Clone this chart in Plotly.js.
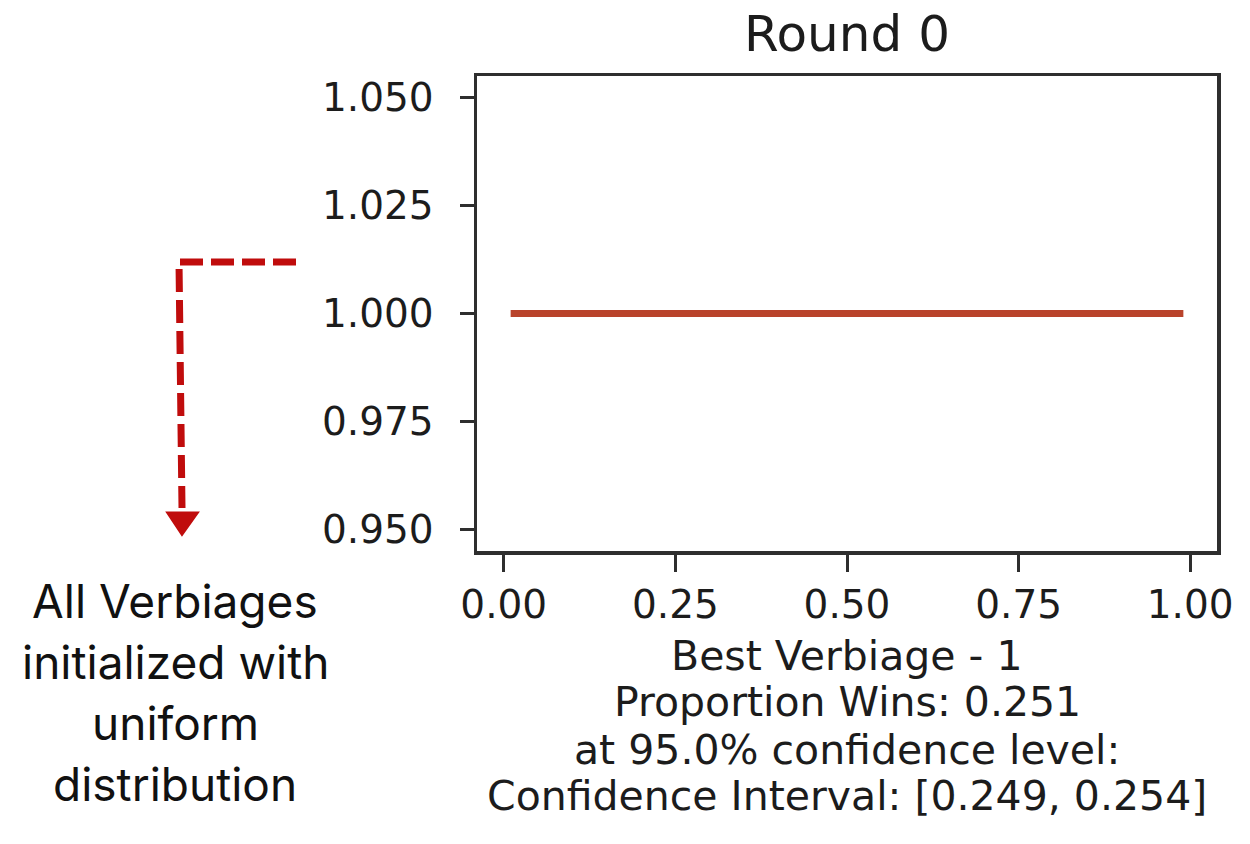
<!DOCTYPE html>
<html>
<head>
<meta charset="utf-8">
<script src="https://cdn.plot.ly/plotly-3.0.1.min.js"></script>
<style>
  html, body { margin: 0; padding: 0; background: #ffffff; }
  #chart { width: 1250px; height: 844px; }
</style>
</head>
<body>
<div id="chart"></div>
<script>
// ---- data ----
const xValues = [0.01, 0.25, 0.50, 0.75, 0.99];
const densityValues = [1.0, 1.0, 1.0, 1.0, 1.0];
const xTickValues = [0.00, 0.25, 0.50, 0.75, 1.00];
const xTickLabels = ["0.00", "0.25", "0.50", "0.75", "1.00"];
const yTickValues = [0.950, 0.975, 1.000, 1.025, 1.050];
const yTickLabels = ["0.950", "0.975", "1.000", "1.025", "1.050"];
const chartTitle = "Round 0";
const bottomLines = [
  "Best Verbiage - 1",
  "Proportion Wins: 0.251",
  "at 95.0% confidence level:",
  "Confidence Interval: [0.249, 0.254]"
];
const sideNoteLines = ["All Verbiages", "initialized with", "uniform", "distribution"];

// ---- layout geometry (pixels) ----
const W = 1250, H = 844;
const M = {l: 477, r: 33, t: 76, b: 293};
const plotW = W - M.l - M.r, plotH = H - M.t - M.b;
const px = x => (x - M.l) / plotW;           // pixel x -> paper x
const py = y => (H - M.b - y) / plotH;       // pixel y -> paper y

const tickFont = {family: "DejaVu Sans", size: 39, color: "#1c1c1c"};
const textFont = {family: "DejaVu Sans", size: 41, color: "#1c1c1c"};
const noteFont = {family: "Inter", size: 46, color: "#111111"};

const trace = {
  x: xValues,
  y: densityValues,
  type: "scatter",
  mode: "lines",
  line: {color: "#b9432b", width: 7},
  hoverinfo: "skip",
  showlegend: false
};

const annotations = [];
const bottomCenters = [656, 702, 750, 796];
bottomLines.forEach((t, i) => annotations.push({
  text: t, xref: "paper", yref: "paper", x: 0.5, y: py(bottomCenters[i]),
  xanchor: "center", yanchor: "middle", showarrow: false, font: textFont
}));
const noteCenters = [601, 662, 723, 784];
sideNoteLines.forEach((t, i) => annotations.push({
  text: t, xref: "paper", yref: "paper", x: px(175), y: py(noteCenters[i]),
  xanchor: "center", yanchor: "middle", showarrow: false, font: noteFont
}));

const P = (x, y) => px(x).toFixed(5) + "," + py(y).toFixed(5);
const shapes = [
  {
    type: "path", xref: "paper", yref: "paper",
    path: "M" + P(296, 262) + " L" + P(179, 262) + " L" + P(182, 508),
    line: {color: "#c00c0c", width: 7, dash: "23px,8px"}
  },
  {
    type: "path", xref: "paper", yref: "paper",
    path: "M" + P(168, 513) + " L" + P(197, 513) + " L" + P(182, 534) + " Z",
    line: {color: "#c00c0c", width: 3}, fillcolor: "#c00c0c"
  }
];

const layout = {
  width: W, height: H,
  margin: M,
  paper_bgcolor: "#ffffff",
  plot_bgcolor: "#ffffff",
  title: {
    text: chartTitle,
    font: {family: "DejaVu Sans", size: 50, color: "#1c1c1c"},
    xref: "paper", x: 0.5, xanchor: "center",
    yref: "container", y: 1 - 33.5 / H, yanchor: "middle"
  },
  xaxis: {
    range: [-0.039, 1.039],
    tickmode: "array", tickvals: xTickValues, ticktext: xTickLabels,
    ticks: "outside", ticklen: 17, tickwidth: 3, tickcolor: "#2e2e2e",
    showline: true, linecolor: "#2e2e2e", linewidth: 3.5, mirror: true,
    showgrid: false, zeroline: false, tickfont: tickFont,
    ticklabelstandoff: 0, fixedrange: true
  },
  yaxis: {
    range: [0.945, 1.055],
    tickmode: "array", tickvals: yTickValues, ticktext: yTickLabels,
    ticks: "outside", ticklen: 14, tickwidth: 3, tickcolor: "#2e2e2e",
    showline: true, linecolor: "#2e2e2e", linewidth: 3.5, mirror: true,
    showgrid: false, zeroline: false, tickfont: tickFont,
    ticklabelstandoff: 18, fixedrange: true
  },
  annotations: annotations,
  shapes: shapes,
  showlegend: false
};

Plotly.newPlot("chart", [trace], layout, {staticPlot: true, displayModeBar: false});
</script>
</body>
</html>
